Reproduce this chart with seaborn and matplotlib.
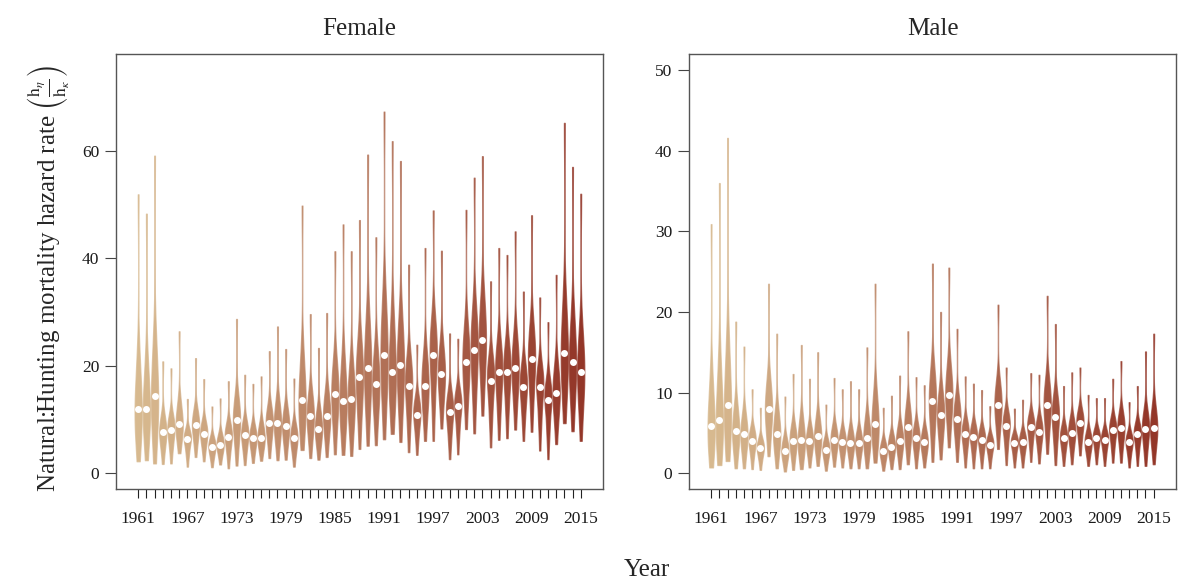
import matplotlib
matplotlib.use("Agg")
import matplotlib.pyplot as plt
import pandas as pd
import seaborn as sns

# years on the x axis
years = list(range(1961, 2016))

# Female: lower end, lower body, median, upper body, upper end
f_lo = [2.2, 2.4, 1.8, 1.7, 1.8, 3.7, 1.2, 3.0, 2.2, 1.1, 1.6, 0.9, 1.4, 1.5, 1.9, 2.3, 2.8, 2.4, 2.5, 1.2,
        4.3, 2.8, 2.5, 3.0, 3.5, 3.4, 3.2, 4.5, 5.1, 5.2, 6.3, 7.3, 5.8, 3.9, 3.4, 6.0, 6.0, 8.3, 2.6, 3.5,
        8.2, 7.4, 10.7, 4.8, 6.2, 6.5, 8.1, 6.0, 7.7, 4.2, 2.6, 5.4, 9.3, 7.8, 6.0]
f_q1 = [7.1, 7.2, 8.1, 4.7, 5.0, 6.4, 3.8, 6.0, 4.8, 3.0, 3.5, 3.9, 5.6, 4.3, 4.2, 4.5, 6.1, 5.9, 5.6, 3.9,
        9.0, 6.7, 5.4, 6.9, 9.1, 8.5, 8.5, 11.2, 12.4, 10.9, 14.2, 13.1, 13.0, 10.1, 7.2, 11.2, 14.0, 13.4, 7.0, 8.0,
        14.5, 15.2, 17.8, 11.0, 12.5, 12.7, 13.8, 11.1, 14.5, 10.1, 8.1, 10.2, 15.8, 14.2, 12.5]
f_med = [12.0, 12.0, 14.3, 7.6, 8.1, 9.1, 6.3, 8.9, 7.3, 4.9, 5.3, 6.8, 9.8, 7.1, 6.5, 6.6, 9.3, 9.3, 8.7, 6.5,
         13.6, 10.6, 8.3, 10.7, 14.7, 13.5, 13.8, 17.8, 19.6, 16.5, 22.0, 18.9, 20.1, 16.3, 10.9, 16.3, 22.0, 18.4, 11.4, 12.4,
         20.7, 23.0, 24.8, 17.2, 18.8, 18.9, 19.5, 16.1, 21.2, 16.0, 13.6, 14.9, 22.3, 20.6, 18.9]
f_q3 = [20.0, 19.3, 23.3, 10.2, 10.4, 12.6, 7.8, 11.4, 9.3, 6.4, 7.0, 8.9, 13.6, 9.3, 8.5, 8.9, 12.0, 12.9, 11.6, 8.7,
        20.8, 14.4, 11.3, 14.5, 20.0, 20.1, 19.3, 23.7, 27.5, 22.0, 31.1, 27.5, 27.7, 20.8, 13.5, 21.4, 27.4, 23.0, 14.3, 14.9,
        26.4, 29.4, 31.6, 20.9, 23.4, 23.2, 24.6, 19.6, 26.6, 19.3, 16.5, 19.3, 30.9, 27.9, 25.5]
f_hi = [51.9, 48.3, 59.1, 20.8, 19.5, 26.4, 13.8, 21.4, 17.5, 12.4, 13.9, 17.1, 28.7, 18.3, 16.6, 18.0, 22.7, 27.3, 23.1, 17.6,
        49.8, 29.6, 23.3, 29.8, 41.3, 46.3, 41.3, 47.1, 59.3, 43.9, 67.3, 61.8, 58.1, 38.8, 23.9, 41.9, 48.9, 41.4, 26.0, 25.0,
        49.0, 55.0, 59.0, 35.7, 41.9, 40.6, 45.0, 33.8, 48.0, 32.7, 28.1, 36.9, 65.2, 57.0, 52.0]

# Male
m_lo = [0.7, 1.0, 1.5, 0.6, 0.6, 0.5, 0.4, 2.1, 0.6, 0.2, 0.4, 0.5, 0.7, 0.9, 0.3, 0.8, 0.7, 0.6, 0.6, 0.6,
        1.3, 0.3, 0.5, 0.5, 1.1, 0.6, 0.7, 1.4, 1.7, 3.2, 1.4, 0.7, 0.6, 0.6, 0.6, 3.0, 1.0, 0.7, 0.7, 1.4,
        1.2, 2.4, 1.0, 0.9, 1.1, 2.2, 0.9, 1.1, 0.9, 1.3, 1.3, 0.7, 0.9, 0.9, 1.1]
m_q1 = [3.3, 3.8, 5.0, 2.9, 2.7, 2.3, 1.8, 5.1, 2.8, 1.5, 2.2, 2.3, 2.4, 2.8, 1.6, 2.5, 2.3, 2.2, 2.2, 2.5,
        3.7, 1.5, 1.9, 2.3, 3.4, 2.5, 2.3, 5.2, 4.5, 6.5, 4.1, 2.8, 2.6, 2.4, 2.1, 5.8, 3.4, 2.2, 2.3, 3.6,
        3.2, 5.5, 4.0, 2.7, 3.1, 4.2, 2.4, 2.7, 2.5, 3.3, 3.5, 2.3, 2.9, 3.2, 3.4]
m_med = [5.9, 6.6, 8.4, 5.2, 4.8, 4.0, 3.1, 8.0, 4.9, 2.8, 4.0, 4.1, 4.0, 4.6, 2.9, 4.1, 3.8, 3.7, 3.7, 4.4,
         6.1, 2.7, 3.3, 4.0, 5.7, 4.3, 3.8, 9.0, 7.2, 9.7, 6.7, 4.8, 4.5, 4.1, 3.5, 8.5, 5.8, 3.7, 3.8, 5.7,
         5.1, 8.5, 7.0, 4.4, 5.0, 6.2, 3.8, 4.3, 4.1, 5.3, 5.6, 3.8, 4.8, 5.5, 5.6]
m_q3 = [10.9, 12.5, 15.0, 7.9, 7.0, 5.3, 4.1, 11.1, 7.4, 4.1, 5.7, 6.5, 5.5, 6.7, 4.0, 5.6, 5.1, 5.2, 5.1, 6.6,
        9.6, 3.8, 4.6, 5.6, 8.1, 5.8, 5.2, 12.4, 9.8, 12.9, 8.9, 6.2, 5.8, 5.3, 4.5, 11.0, 7.3, 4.6, 4.9, 7.0,
        6.5, 11.2, 9.3, 5.7, 6.5, 7.6, 5.0, 5.3, 5.1, 6.6, 7.3, 4.8, 6.0, 7.4, 7.9]
m_hi = [30.9, 36.0, 41.6, 18.8, 15.7, 10.4, 8.1, 23.5, 17.3, 9.5, 12.3, 15.9, 11.7, 15.0, 8.5, 11.8, 10.4, 11.4, 10.4, 15.6,
        23.5, 8.1, 9.6, 12.1, 17.6, 11.9, 10.9, 26.0, 20.0, 25.5, 17.9, 12.0, 11.1, 10.3, 8.3, 20.9, 13.1, 8.0, 9.1, 12.4,
        12.2, 22.0, 18.5, 10.8, 12.5, 13.1, 9.7, 9.3, 9.3, 11.7, 13.9, 8.8, 10.8, 15.1, 17.3]

labels = [str(y) for y in years]
# how often each read value enters the sample (lo, q1, median, q3, hi)
counts = [1, 3, 6, 3, 1]

sns.set_theme(style="ticks")
plt.rcParams["font.family"] = ["Liberation Serif", "DejaVu Serif"]
plt.rcParams["mathtext.fontset"] = "stix"

pal = sns.blend_palette(["#d7b98f", "#933628"], n_colors=len(years))


def make_df(lo, q1, med, q3, hi):
    rows = []
    for i, lab in enumerate(labels):
        for v, n in zip([lo[i], q1[i], med[i], q3[i], hi[i]], counts):
            rows += [(lab, v)] * n
    return pd.DataFrame(rows, columns=["year", "value"])


fig, axes = plt.subplots(1, 2, figsize=(11.78, 5.88), dpi=100)
fig.subplots_adjust(left=0.0985, right=0.9985, bottom=0.168, top=0.908, wspace=0.176)

panels = [
    ("Female", f_lo, f_q1, f_med, f_q3, f_hi, (-3, 78), [0, 20, 40, 60]),
    ("Male", m_lo, m_q1, m_med, m_q3, m_hi, (-2, 52), [0, 10, 20, 30, 40, 50]),
]

for ax, (title, lo, q1, med, q3, hi, ylim, yt) in zip(axes, panels):
    df = make_df(lo, q1, med, q3, hi)
    sns.violinplot(data=df, x="year", y="value", hue="year", order=labels, hue_order=labels,
                   palette=pal, legend=False, inner=None, cut=0, density_norm="width",
                   width=0.88, bw_method=0.45, gridsize=300, linewidth=0.9, saturation=1, ax=ax)
    # outline in a lighter fill colour so the long tails show as pale thin lines
    for coll in ax.collections:
        fc = coll.get_facecolor()[0]
        coll.set_edgecolor((fc[0], fc[1], fc[2], 0.7))
    sns.stripplot(x=labels, y=med, order=labels, color="white", jitter=False, size=5,
                  linewidth=0, zorder=5, ax=ax)

    ax.set_xlim(-2.7, 56.75)
    ax.set_ylim(*ylim)
    ax.set_yticks(yt)
    ax.set_xticks(range(len(years)))
    ax.set_xticklabels([lab if (y - 1961) % 6 == 0 else "" for y, lab in zip(years, labels)])
    ax.set_xlabel("")
    ax.set_ylabel("")
    ax.tick_params(axis="x", length=6.5, width=0.8, pad=9, labelsize=12.5, color="#222222", labelcolor="#1a1a1a")
    ax.tick_params(axis="y", length=8, width=0.8, pad=4, labelsize=12.5, color="#444444", labelcolor="#1a1a1a")
    for s in ax.spines.values():
        s.set_visible(True)
        s.set_color("#555555")
        s.set_linewidth(1.0)
    ax.set_title(title, fontsize=18, pad=14)

fig.text(0.041, 0.5255, r"Natural:Hunting mortality hazard rate $\left(\frac{\mathrm{h}_\eta}{\mathrm{h}_\kappa}\right)$",
         rotation=90, ha="center", va="center", fontsize=18)
fig.text(0.549, 0.031, "Year", ha="center", va="center", fontsize=18)

fig.savefig("out.png", dpi=100)
